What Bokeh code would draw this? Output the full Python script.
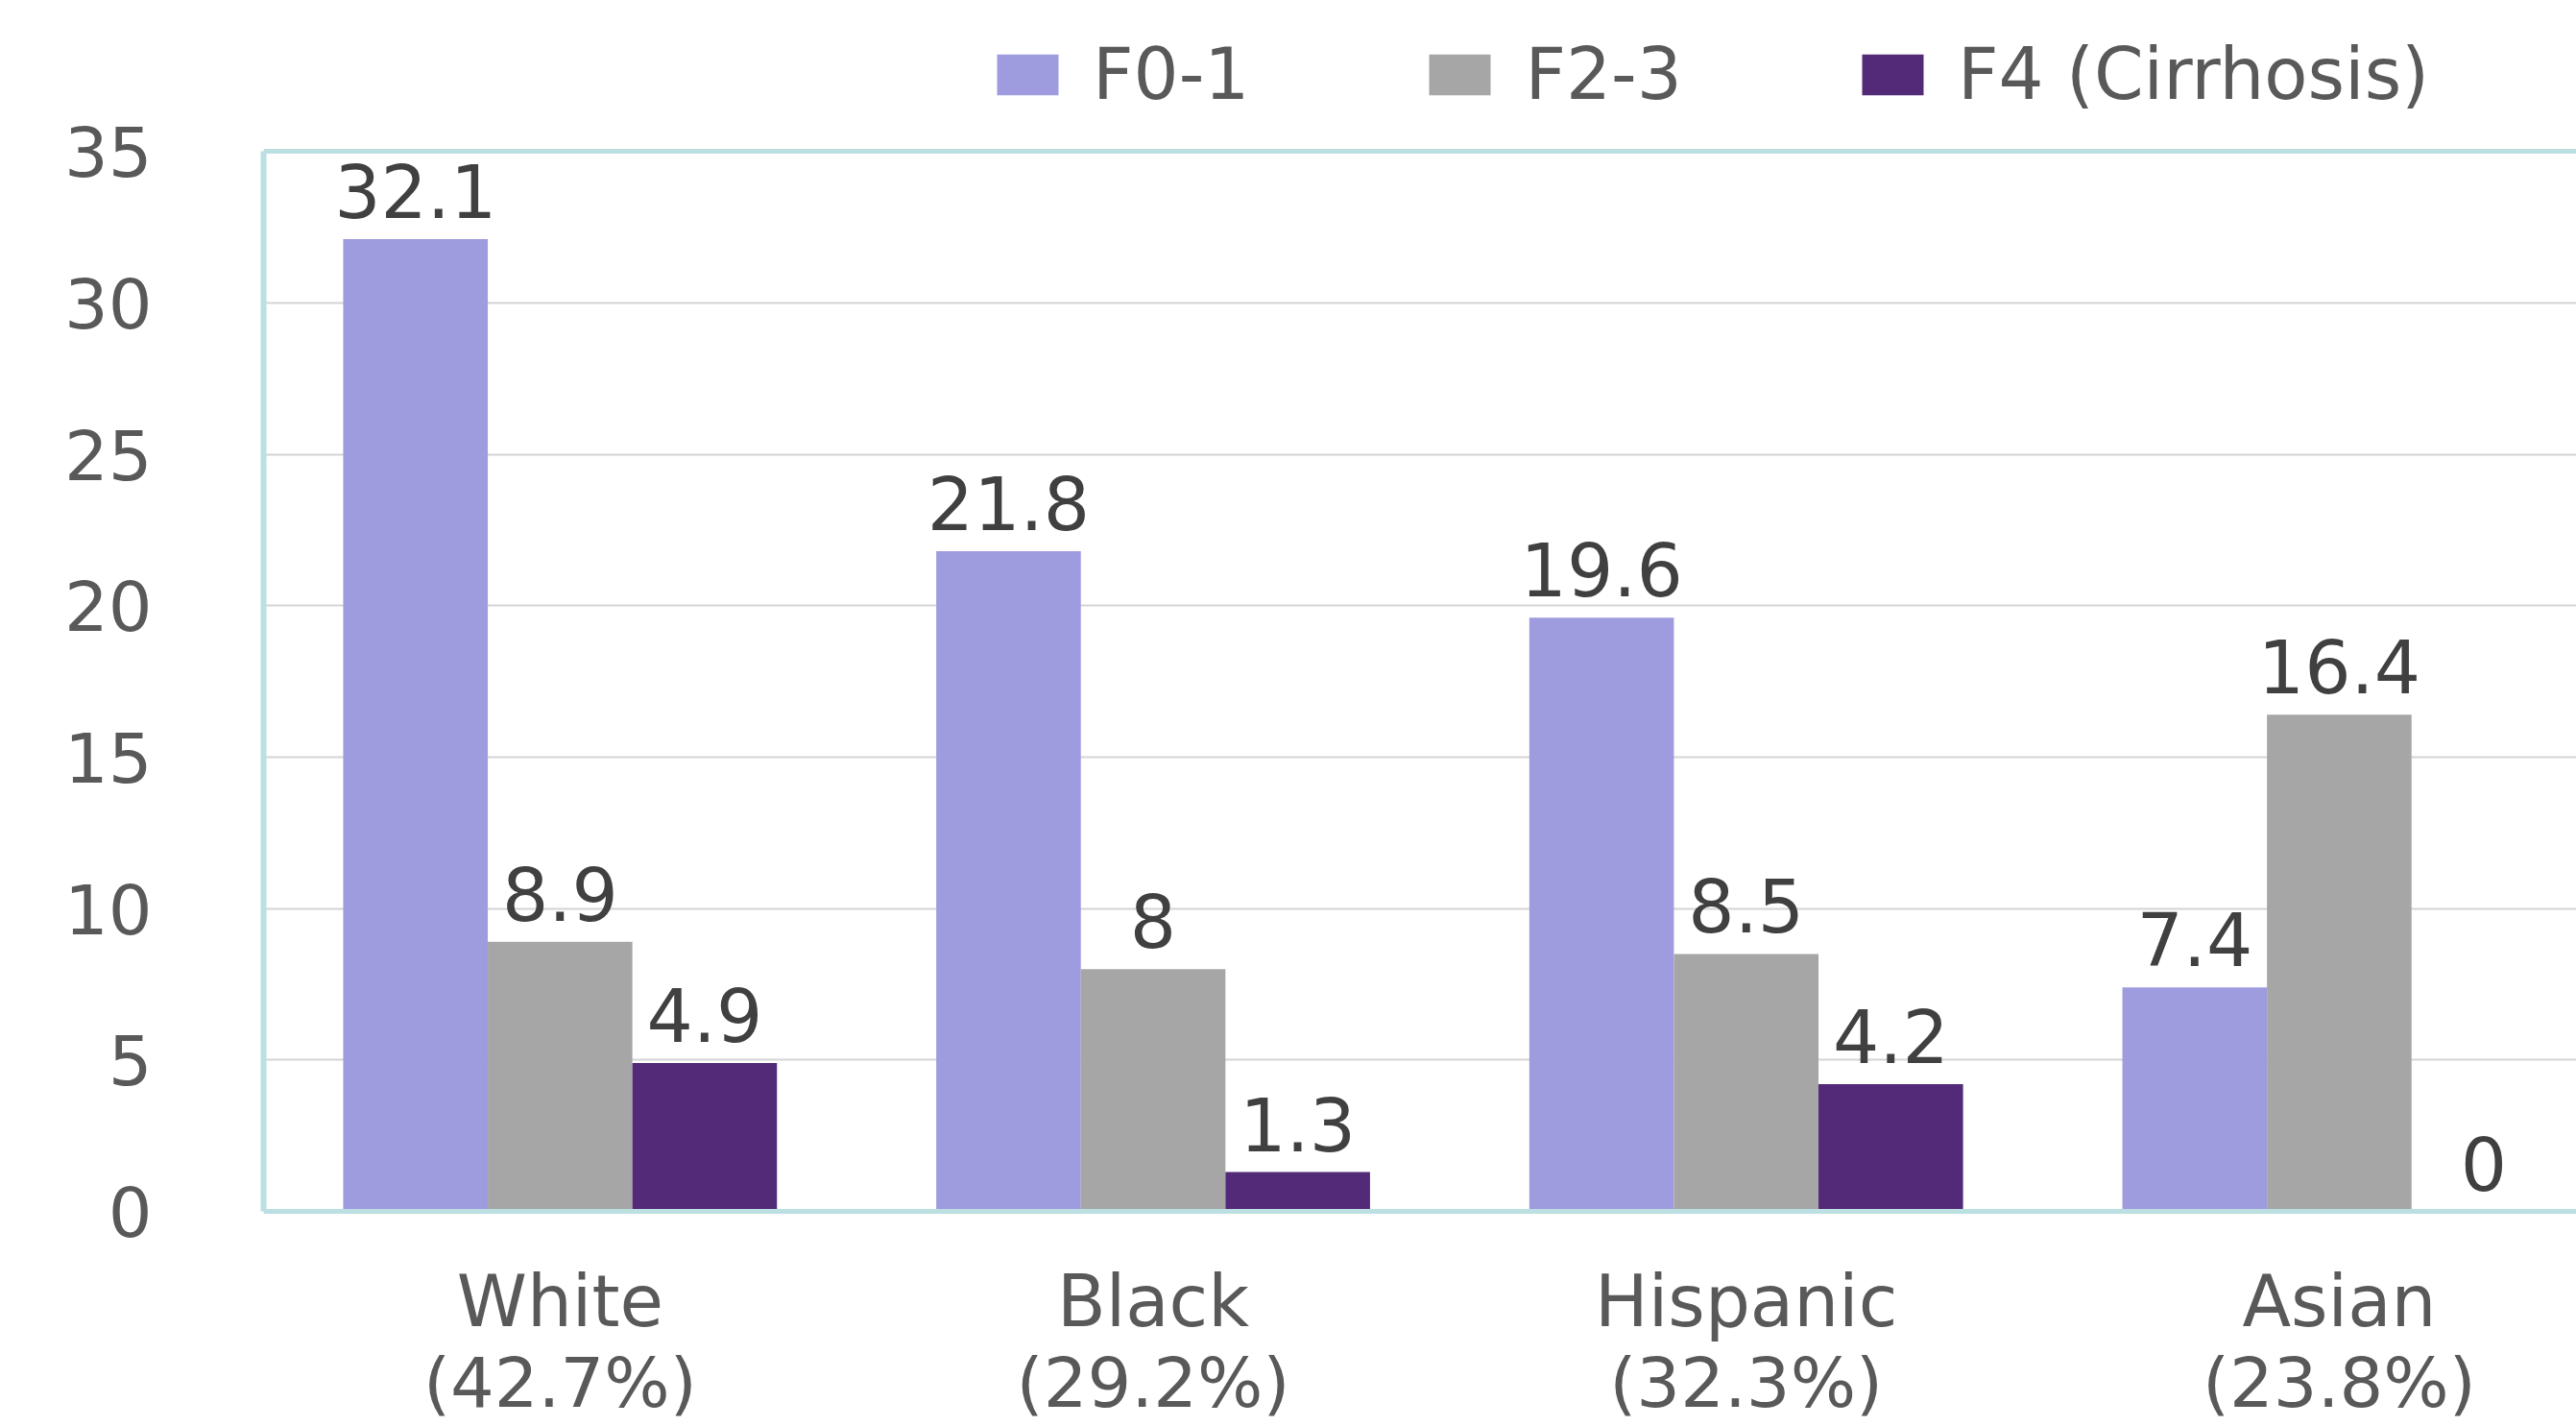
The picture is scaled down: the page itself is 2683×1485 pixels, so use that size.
import numpy as np
from bokeh.plotting import figure
from bokeh.models import (Range1d, FixedTicker, Span, Legend, LegendItem,
                          ColumnDataSource)
from bokeh.transform import dodge
from bokeh.core.properties import value
from bokeh.embed import file_html
from bokeh.resources import INLINE

# Fibrosis stage distribution (%) by ethnic group
groups = ["White", "Black", "Hispanic", "Asian"]
group_shares = ["42.7%", "29.2%", "32.3%", "23.8%"]
stages = ["F0-1", "F2-3", "F4 (Cirrhosis)"]
f0_1 = [32.1, 21.8, 19.6, 7.4]
f2_3 = [8.9, 8.0, 8.5, 16.4]
f4 = [4.9, 1.3, 4.2, 0.0]
y_ticks = [0, 5, 10, 15, 20, 25, 30, 35]

colors = ["#9e9cdf", "#a6a6a6", "#532a78"]
frame_teal = "#bcdfe2"
font = value("DejaVu Sans")

centers = np.arange(len(groups)) + 0.5
bar_w = 0.2438
offsets = [-bar_w, 0.0, bar_w]

src = ColumnDataSource(dict(
    x=centers,
    zero=[0.0] * len(groups),
    name=groups,
    share=[f"({s})" for s in group_shares],
    s0=f0_1, s1=f2_3, s2=f4,
    t0=[f"{v:g}" for v in f0_1],
    t1=[f"{v:g}" for v in f2_3],
    t2=[f"{v:g}" for v in f4],
))

# the frame covers the full height; the value axis runs 0..35 inside it and
# the space above/below holds the legend and the category names
p = figure(width=2683, height=1485, output_backend="svg", toolbar_location=None,
           x_range=Range1d(0, 3.9), y_range=Range1d(-7.10, 39.98),
           min_border_left=274, min_border_top=0, min_border_bottom=0,
           min_border_right=0)
p.frame_width = 2409
p.frame_height = 1485
p.outline_line_color = None
p.background_fill_color = "white"
p.border_fill_color = "white"

renderers = []
for i, off in enumerate(offsets):
    r = p.vbar(x=dodge("x", off, range=p.x_range), top=f"s{i}", width=bar_w,
               source=src, fill_color=colors[i], line_color=None)
    renderers.append(r)
    p.text(x=dodge("x", off, range=p.x_range), y=f"s{i}", text=f"t{i}",
           source=src, text_align="center", text_baseline="bottom",
           y_offset=-22, text_font=font, text_font_size="76px",
           text_color="#404040")

# category names and their shares under the baseline
p.text(x="x", y="zero", text="name", source=src, text_align="center",
       text_baseline="middle", y_offset=93, text_font=font,
       text_font_size="74px", text_color="#595959")
p.text(x="x", y="zero", text="share", source=src, text_align="center",
       text_baseline="middle", y_offset=178, text_font=font,
       text_font_size="72px", text_color="#595959")

# grid
p.xgrid.visible = False
p.ygrid.ticker = FixedTicker(ticks=y_ticks)
p.ygrid.grid_line_color = "#d4d4d4"
p.ygrid.grid_line_width = 2

# edges of the plotting area
p.add_layout(Span(location=35, dimension="width", line_color=frame_teal,
                  line_width=5))
p.add_layout(Span(location=0, dimension="width", line_color=frame_teal,
                  line_width=5))

# y axis
p.yaxis.ticker = FixedTicker(ticks=y_ticks)
p.yaxis.bounds = (0, 35)
p.yaxis.axis_line_color = frame_teal
p.yaxis.axis_line_width = 6
p.yaxis.major_tick_line_color = None
p.yaxis.minor_tick_line_color = None
p.yaxis.major_label_standoff = 110
p.yaxis.major_label_text_font = "DejaVu Sans"
p.yaxis.major_label_text_font_size = "72px"
p.yaxis.major_label_text_color = "#595959"

p.xaxis.visible = False

legend = Legend(
    items=[LegendItem(label=s, renderers=[r]) for s, r in zip(stages, renderers)],
    orientation="horizontal", location=(756, 1365),
    glyph_width=80, glyph_height=53, label_standoff=28, spacing=179,
    padding=0, margin=0, border_line_color=None, background_fill_alpha=0,
    label_text_font="DejaVu Sans", label_text_font_size="74px",
    label_text_color="#595959", label_height=53,
)
p.add_layout(legend)

open("out.html", "w").write(file_html(p, INLINE))
